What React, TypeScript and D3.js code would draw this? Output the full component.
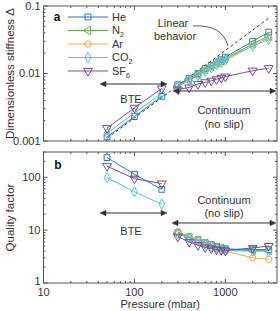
import React from 'react';
import * as d3 from 'd3';

// ---- data ----
const gases = ['He', 'N2', 'Ar', 'CO2', 'SF6'];
const gasColors = ['#2b7bbf', '#5fb043', '#f2a93b', '#45c3f0', '#7b4a9e'];
const pBTE = [50, 100, 200];
const pCont = [300, 400, 500, 600, 700, 800, 900, 1000, 2000, 3000];

// panel a: dimensionless stiffness
const stiffBTE_He = [0.00115, 0.0023, 0.0046];
const stiffBTE_CO2 = [0.0013, 0.0026, 0.0051];
const stiffBTE_SF6 = [0.00155, 0.0031, 0.006];
const stiffCont_He = [0.0068, 0.0085, 0.01, 0.0118, 0.0132, 0.0148, 0.016, 0.0175, 0.03, 0.041];
const stiffCont_N2 = [0.0066, 0.0082, 0.0097, 0.0113, 0.0127, 0.0142, 0.0154, 0.0167, 0.0275, 0.036];
const stiffCont_Ar = [0.0065, 0.008, 0.0095, 0.011, 0.0124, 0.0138, 0.015, 0.0162, 0.0265, 0.034];
const stiffCont_CO2 = [0.0064, 0.0079, 0.0093, 0.0108, 0.0122, 0.0135, 0.0147, 0.0158, 0.0255, 0.032];
const stiffCont_SF6 = [0.0058, 0.0062, 0.007, 0.0074, 0.0078, 0.0082, 0.0086, 0.009, 0.011, 0.012];
const linearP = [50, 3000];
const linearD = [0.0011, 0.066];

// panel b: quality factor
const qBTE_He = [235, 114, 59];
const qBTE_CO2 = [98, 53, 31];
const qBTE_SF6 = [162, 94, 76];
const qCont_He = [9.0, 7.5, 6.6, 5.8, 5.3, 4.9, 4.6, 4.4, 4.3, 4.3];
const qCont_N2 = [8.8, 7.3, 6.4, 5.6, 5.1, 4.7, 4.5, 4.3, 4.1, 4.1];
const qCont_Ar = [9.3, 7.6, 6.6, 5.7, 5.1, 4.6, 4.3, 4.0, 3.0, 2.8];
const qCont_CO2 = [8.5, 7.1, 6.2, 5.4, 4.9, 4.6, 4.3, 4.1, 4.0, 4.0];
const qCont_SF6 = [7.5, 6.0, 5.2, 4.7, 4.5, 4.3, 4.2, 4.1, 4.6, 5.0];

const xTickLabels = ['10', '100', '1000'];
const yATickLabels = ['0.001', '0.01', '0.1'];
const yBTickLabels = ['1', '10', '100'];

// ---- layout ----
const W = 280, H = 311;
const L = 43.5, R = 277;
const aTop = 6, aBot = 141;
const bTop = 152, bBot = 283;
const FONT = 'Liberation Sans, Arial, sans-serif';
const AXC = '#555';
const TXT = '#333';

const x = d3.scaleLog().domain([10, 3700]).range([L, R]);
const yA = d3.scaleLog().domain([0.001, 0.1]).range([aBot, aTop]);
const yB = d3.scaleLog().domain([1, 300]).range([bBot, bTop]);

const symbolFor = (i: number) => {
  const types = [d3.symbolSquare, d3.symbolTriangle, d3.symbolCircle, d3.symbolDiamond, d3.symbolTriangle];
  const sizes = [34, 30, 32, 30, 34];
  return d3.symbol().type(types[i]).size(sizes[i])() as string;
};
const rotFor = (i: number) => (i === 1 ? -90 : i === 4 ? 180 : 0);

function Marker({ i, cx, cy }: { i: number; cx: number; cy: number }) {
  return (
    <path
      d={symbolFor(i)}
      transform={`translate(${cx},${cy}) rotate(${rotFor(i)})`}
      fill="none"
      stroke={gasColors[i]}
      strokeWidth={1}
    />
  );
}

function Series({ i, ps, vs, y }: { i: number; ps: number[]; vs: number[]; y: any }) {
  const line = d3.line<number>().x((_, k) => x(ps[k])).y((v) => y(v));
  return (
    <g>
      <path d={line(vs) as string} fill="none" stroke={gasColors[i]} strokeWidth={1} />
      {vs.map((v, k) => (
        <Marker key={k} i={i} cx={x(ps[k])} cy={y(v)} />
      ))}
    </g>
  );
}

function Frame({ y, top, bot, majors, labels, showX, lastLabelShift }: any) {
  const xMinor: number[] = [];
  [10, 100, 1000].forEach((d) => {
    for (let m = 2; m <= 9; m++) if (d * m <= 3700) xMinor.push(d * m);
  });
  const yDom = y.domain();
  const yMinor: number[] = [];
  [0.001, 0.01, 1, 10, 100].forEach((d) => {
    for (let m = 2; m <= 9; m++) {
      const v = d * m;
      if (v >= yDom[0] && v <= yDom[1] + 1e-12) yMinor.push(v);
    }
  });
  return (
    <g>
      <rect x={L} y={top} width={R - L} height={bot - top} fill="none" stroke={AXC} strokeWidth={1} />
      {[10, 100, 1000].map((t) => (
        <g key={'xm' + t}>
          <line x1={x(t)} x2={x(t)} y1={bot} y2={bot - 4} stroke={AXC} />
          <line x1={x(t)} x2={x(t)} y1={top} y2={top + 4} stroke={AXC} />
        </g>
      ))}
      {xMinor.map((t) => (
        <g key={'xn' + t}>
          <line x1={x(t)} x2={x(t)} y1={bot} y2={bot - 2} stroke={AXC} />
          <line x1={x(t)} x2={x(t)} y1={top} y2={top + 2} stroke={AXC} />
        </g>
      ))}
      {majors.map((t: number) => (
        <g key={'ym' + t}>
          <line x1={L} x2={L + 4} y1={y(t)} y2={y(t)} stroke={AXC} />
          <line x1={R} x2={R - 4} y1={y(t)} y2={y(t)} stroke={AXC} />
        </g>
      ))}
      {yMinor.map((t) => (
        <g key={'yn' + t}>
          <line x1={L} x2={L + 2} y1={y(t)} y2={y(t)} stroke={AXC} />
          <line x1={R} x2={R - 2} y1={y(t)} y2={y(t)} stroke={AXC} />
        </g>
      ))}
      {majors.map((t: number, k: number) => (
        <text key={'yl' + t} x={L - 3} y={y(t) - (k === 0 && lastLabelShift ? lastLabelShift : 0)} dy="0.35em" textAnchor="end" fontSize={11} fill={TXT} fontFamily={FONT}>
          {labels[k]}
        </text>
      ))}
      {showX &&
        [10, 100, 1000].map((t, k) => (
          <text key={'xl' + t} x={x(t)} y={bot + 13} textAnchor="middle" fontSize={11} fill={TXT} fontFamily={FONT}>
            {xTickLabels[k]}
          </text>
        ))}
    </g>
  );
}

function DArrow({ x1, x2, y }: { x1: number; x2: number; y: number }) {
  const hl = 6, hw = 2.8;
  return (
    <g fill="#333" stroke="#333">
      <line x1={x1 + 2} x2={x2 - 2} y1={y} y2={y} strokeWidth={1} />
      <path d={`M${x1},${y} L${x1 + hl},${y - hw} L${x1 + hl},${y + hw} Z`} strokeWidth={0.5} />
      <path d={`M${x2},${y} L${x2 - hl},${y - hw} L${x2 - hl},${y + hw} Z`} strokeWidth={0.5} />
    </g>
  );
}

function GasLabel({ i, xx, yy }: { i: number; xx: number; yy: number }) {
  const g = gases[i];
  const m = g.match(/^([A-Za-z]+?)(\d*)$/);
  const base = m ? m[1] : g;
  const sub = m ? m[2] : '';
  return (
    <text x={xx} y={yy} dy="0.35em" fontSize={11} fill={TXT} fontFamily={FONT}>
      {base}
      {sub && (
        <tspan fontSize={7} dy={3}>
          {sub}
        </tspan>
      )}
    </text>
  );
}

export default function App() {
  const contA = [stiffCont_He, stiffCont_N2, stiffCont_Ar, stiffCont_CO2, stiffCont_SF6];
  const contB = [qCont_He, qCont_N2, qCont_Ar, qCont_CO2, qCont_SF6];
  const bteA: [number, number[]][] = [[0, stiffBTE_He], [3, stiffBTE_CO2], [4, stiffBTE_SF6]];
  const bteB: [number, number[]][] = [[0, qBTE_He], [3, qBTE_CO2], [4, qBTE_SF6]];
  const legendY = [17, 30.5, 44, 57.5, 71];
  const linPath = d3.line<number>().x((_, k) => x(linearP[k])).y((v) => yA(v))(linearD) as string;

  return (
    <svg width={W} height={H} style={{ position: 'absolute', left: 0, top: 0 }}>
      <rect width={W} height={H} fill="#fff" />
      {/* Panel a */}
      <Frame y={yA} top={aTop} bot={aBot} majors={[0.001, 0.01, 0.1]} labels={yATickLabels} showX={false} />
      <path d={linPath} stroke="#222" strokeWidth={0.9} strokeDasharray="3,2.5" fill="none" />
      {bteA.map(([i, vs]) => (
        <Series key={'ba' + i} i={i} ps={pBTE} vs={vs} y={yA} />
      ))}
      {contA.map((vs, i) => (
        <Series key={'ca' + i} i={i} ps={pCont} vs={vs} y={yA} />
      ))}
      <text x={57} y={17} dy="0.35em" textAnchor="middle" fontSize={12} fontWeight="bold" fill="#111" fontFamily={FONT}>a</text>
      {gases.map((g, i) => (
        <g key={'lg' + g}>
          <line x1={68} x2={108} y1={legendY[i]} y2={legendY[i]} stroke={gasColors[i]} strokeWidth={1} />
          <Marker i={i} cx={88} cy={legendY[i]} />
          <GasLabel i={i} xx={112} yy={legendY[i]} />
        </g>
      ))}
      <text x={173} y={23} dy="0.35em" textAnchor="middle" fontSize={11} fill={TXT} fontFamily={FONT}>Linear</text>
      <text x={175} y={36} dy="0.35em" textAnchor="middle" fontSize={11} fill={TXT} fontFamily={FONT}>behavior</text>
      <path d="M193,26 Q222,24 228,46" fill="none" stroke="#333" strokeWidth={0.8} />
      <DArrow x1={100} x2={167} y={84} />
      <text x={131} y={99} dy="0.35em" textAnchor="middle" fontSize={11} fill={TXT} fontFamily={FONT}>BTE</text>
      <DArrow x1={173} x2={276} y={91} />
      <text x={224} y={110} dy="0.35em" textAnchor="middle" fontSize={11} fill={TXT} fontFamily={FONT}>Continuum</text>
      <text x={224} y={124} dy="0.35em" textAnchor="middle" fontSize={11} fill={TXT} fontFamily={FONT}>(no slip)</text>
      <text transform={`translate(10,${(aTop + aBot) / 2}) rotate(-90)`} textAnchor="middle" dy="0.35em" fontSize={11.5} fill={TXT} fontFamily={FONT}>
        Dimensionless stiffness Δ
      </text>

      {/* Panel b */}
      <Frame y={yB} top={bTop} bot={bBot} majors={[1, 10, 100]} labels={yBTickLabels} showX={true} lastLabelShift={2} />
      {bteB.map(([i, vs]) => (
        <Series key={'bb' + i} i={i} ps={pBTE} vs={vs} y={yB} />
      ))}
      {contB.map((vs, i) => (
        <Series key={'cb' + i} i={i} ps={pCont} vs={vs} y={yB} />
      ))}
      <text x={58} y={165} dy="0.35em" textAnchor="middle" fontSize={12} fontWeight="bold" fill="#111" fontFamily={FONT}>b</text>
      <DArrow x1={100} x2={167} y={213} />
      <text x={131} y={231} dy="0.35em" textAnchor="middle" fontSize={11} fill={TXT} fontFamily={FONT}>BTE</text>
      <DArrow x1={172} x2={276} y={223} />
      <text x={224} y={200} dy="0.35em" textAnchor="middle" fontSize={11} fill={TXT} fontFamily={FONT}>Continuum</text>
      <text x={224} y={213} dy="0.35em" textAnchor="middle" fontSize={11} fill={TXT} fontFamily={FONT}>(no slip)</text>
      <text transform={`translate(10,${(bTop + bBot) / 2}) rotate(-90)`} textAnchor="middle" dy="0.35em" fontSize={11.5} fill={TXT} fontFamily={FONT}>
        Quality factor
      </text>
      <text x={(L + R) / 2} y={304} dy="0.35em" textAnchor="middle" fontSize={11} fill={TXT} fontFamily={FONT}>
        Pressure (mbar)
      </text>
    </svg>
  );
}
